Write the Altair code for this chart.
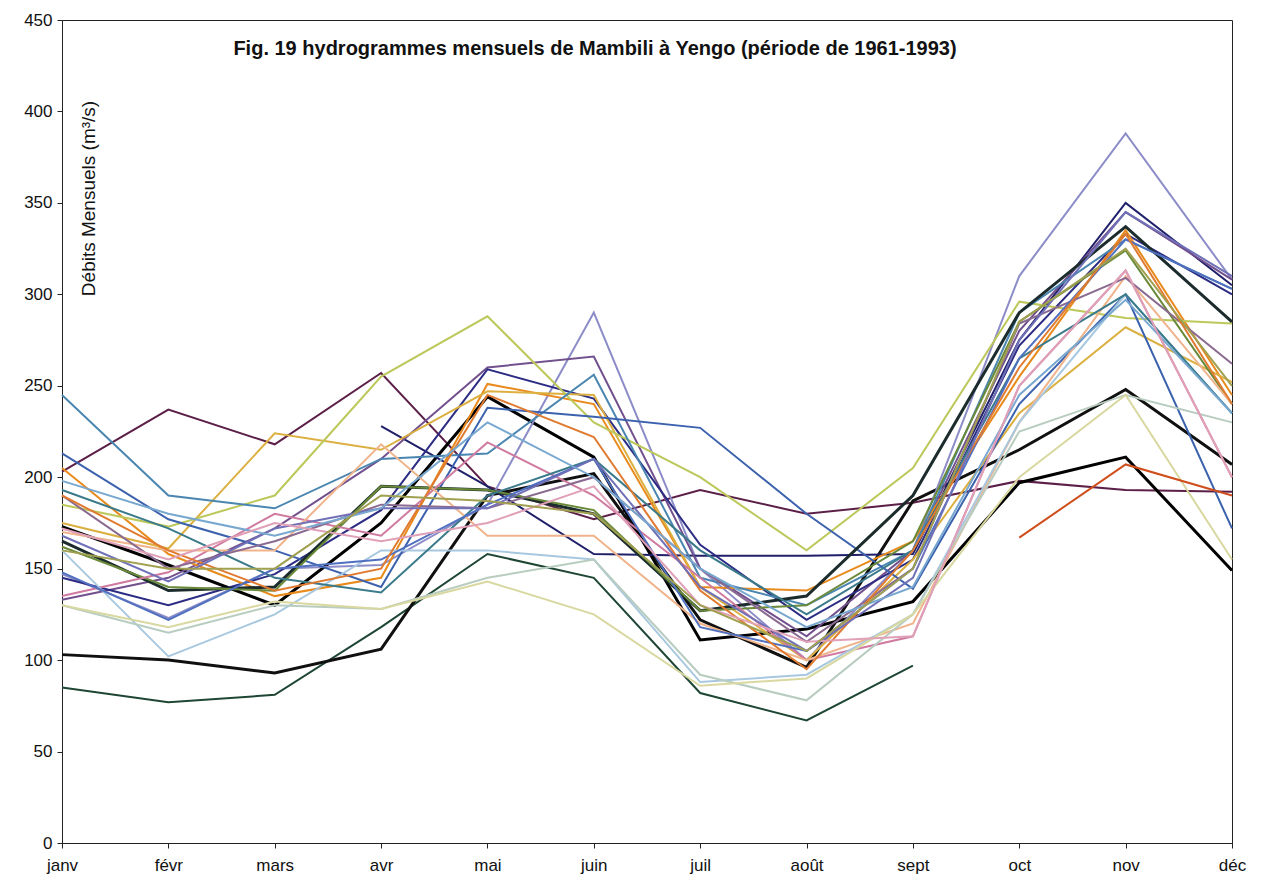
import altair as alt
import pandas as pd

months = ["janv", "févr", "mars", "avr", "mai", "juin", "juil", "août", "sept", "oct", "nov", "déc"]
y_ticks = [0, 50, 100, 150, 200, 250, 300, 350, 400, 450]

s01 = [203, 237, 218, 257, 195, 177, 193, 180, 186, 198, 193, 192]
s02 = [85, 77, 81, 118, 158, 145, 82, 67, 97, None, None, None]
s03 = [103, 100, 93, 106, 190, 202, 122, 96, 187, 215, 248, 207]
s04 = [173, 152, 130, 175, 244, 211, 111, 117, 132, 197, 211, 149]
s05 = [147, 123, 150, 152, 185, 290, 150, 100, 160, 310, 388, 308]
s06 = [None, None, None, 228, 195, 158, 157, 157, 158, 275, 350, 305]
s07 = [133, 145, 172, 210, 260, 266, 150, 113, 160, 280, 345, 308]
s08 = [145, 130, 147, 182, 259, 243, 163, 122, 155, 272, 333, 300]
s09 = [205, 158, 135, 145, 251, 240, 140, 138, 165, 255, 335, 245]
s10 = [175, 161, 224, 215, 247, 245, 140, 100, 155, 235, 282, 252]
s11 = [185, 173, 190, 255, 288, 230, 200, 160, 205, 296, 287, 284]
s12 = [245, 190, 183, 210, 213, 256, 145, 130, 160, 290, 330, 303]
s13 = [213, 177, 160, 140, 238, 233, 227, 180, 139, 240, 300, 172]
s14 = [165, 138, 140, 195, 193, 180, 127, 135, 190, 290, 337, 285]
s15 = [162, 140, 138, 195, 193, 182, 127, 130, 165, 285, 324, 240]
s16 = [135, 148, 180, 168, 219, 190, 145, 100, 113, 250, 313, 200]
s17 = [170, 160, 160, 218, 168, 168, 120, 100, 120, 230, 310, 240]
s18 = [160, 102, 125, 160, 160, 155, 88, 92, 125, 230, 300, 235]
s19 = [130, 115, 130, 128, 145, 155, 92, 78, 125, 225, 245, 230]
s20 = [130, 118, 132, 128, 143, 125, 86, 90, 125, 200, 245, 155]
s21 = [193, 172, 145, 137, 190, 210, 160, 125, 160, 265, 300, 235]
s22 = [None, None, None, None, None, None, None, None, None, 167, 207, 190]
s23 = [190, 150, 165, 185, 183, 200, 150, 110, 150, 284, 309, 262]
s24 = [148, 122, 150, 155, 185, 210, 118, 105, 150, 265, 330, 303]
s25 = [190, 160, 138, 150, 245, 222, 138, 95, 160, 260, 333, 240]
s26 = [168, 143, 172, 183, 183, 210, 140, 105, 145, 275, 345, 310]
s27 = [198, 180, 168, 183, 230, 200, 150, 118, 140, 245, 297, 235]
s28 = [172, 155, 175, 165, 175, 195, 130, 110, 113, 250, 313, 200]
s29 = [160, 150, 150, 190, 187, 180, 130, 105, 150, 285, 325, 250]

series = {
    "s01": s01, "s02": s02, "s03": s03, "s04": s04, "s05": s05, "s06": s06,
    "s07": s07, "s08": s08, "s09": s09, "s10": s10, "s11": s11, "s12": s12,
    "s13": s13, "s14": s14, "s15": s15, "s16": s16, "s17": s17, "s18": s18,
    "s19": s19, "s20": s20, "s21": s21, "s22": s22, "s23": s23, "s24": s24,
    "s25": s25, "s26": s26, "s27": s27, "s28": s28, "s29": s29,
}

palette = {
    "s01": "#5b1f48", "s02": "#1e4634", "s03": "#101010", "s04": "#000000",
    "s05": "#8c8cc8", "s06": "#20206a", "s07": "#72508e", "s08": "#2c2c84",
    "s09": "#e88a1c", "s10": "#dcb040", "s11": "#bcc85a", "s12": "#4a86b0",
    "s13": "#3c62ae", "s14": "#1c2c2c", "s15": "#6a8a3a", "s16": "#d07aa0",
    "s17": "#f0b48c", "s18": "#a8c8e0", "s19": "#b8ccc0", "s20": "#d8d8a0",
    "s21": "#3a7a8a", "s22": "#d04e1c", "s23": "#8a6a90", "s24": "#5070c0",
    "s25": "#e07a30", "s26": "#7070b8", "s27": "#78a8d0", "s28": "#e0a0b8",
    "s29": "#a0a050",
}
thick = ["s03", "s04", "s14"]

rows = []
for name, vals in series.items():
    for m, v in zip(months, vals):
        if v is not None:
            rows.append({"serie": name, "mois": m, "debit": v})
df = pd.DataFrame(rows)

names = list(series.keys())
FONT = "Liberation Sans"

lines = alt.Chart(df).mark_line(strokeJoin="miter").encode(
    x=alt.X("mois:O", sort=months,
            scale=alt.Scale(type="point", padding=0),
            axis=alt.Axis(title=None, labelAngle=0, labelFontSize=17, labelFont=FONT,
                          labelColor="#111", labelPadding=9, tickSize=5,
                          domainColor="#222", tickColor="#222", grid=False)),
    y=alt.Y("debit:Q", scale=alt.Scale(domain=[0, 450], nice=False),
            axis=alt.Axis(values=y_ticks, title="Débits Mensuels (m³/s)",
                          titleFont=FONT, titleFontSize=19, titleFontWeight="normal",
                          titleColor="#111", titleAngle=270, titleX=36, titleY=178,
                          titleAlign="center", titleBaseline="bottom",
                          labelFontSize=17, labelFont=FONT, labelColor="#111",
                          labelPadding=5, tickSize=5, domainColor="#222",
                          tickColor="#222", grid=False)),
    color=alt.Color("serie:N", scale=alt.Scale(domain=names, range=[palette[n] for n in names]),
                    legend=None),
    detail="serie:N",
    strokeWidth=alt.condition(alt.FieldOneOfPredicate(field="serie", oneOf=thick),
                              alt.value(3), alt.value(2)),
)

title = alt.Chart(pd.DataFrame({"t": ["Fig. 19 hydrogrammes mensuels de Mambili à Yengo (période de 1961-1993)"]})).mark_text(
    font=FONT, fontSize=20, fontWeight="bold", color="#111", align="center", baseline="middle"
).encode(text="t:N", x=alt.value(533), y=alt.value(29))

chart = alt.layer(lines, title).properties(
    width=1170, height=823,
    autosize=alt.AutoSizeParams(type="none"),
    padding={"left": 54, "top": 12, "right": 20, "bottom": 40},
    background="white",
).configure_view(stroke="#222", strokeWidth=1)

chart.save("out.html", embed_options={"renderer": "svg", "actions": False})
